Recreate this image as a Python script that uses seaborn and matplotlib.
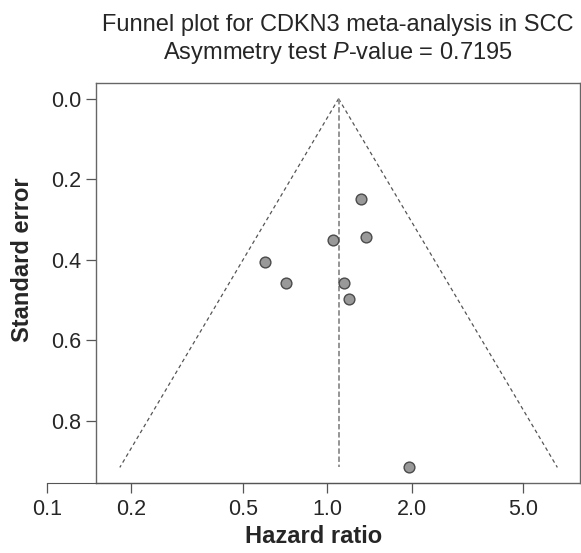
import numpy as np
import pandas as pd
import seaborn as sns
import matplotlib
matplotlib.use("Agg")
from matplotlib import pyplot as plt

# study estimates
hazard_ratio = [1.32, 1.37, 1.05, 0.60, 0.71, 1.15, 1.19, 1.96]
std_error = [0.248, 0.344, 0.350, 0.406, 0.457, 0.459, 0.498, 0.916]
pooled_hr = 1.097
se_max = 0.916
x_ticks = [0.1, 0.2, 0.5, 1.0, 2.0, 5.0]
x_ticklabels = ["0.1", "0.2", "0.5", "1.0", "2.0", "5.0"]
y_ticks = [0.0, 0.2, 0.4, 0.6, 0.8]
y_ticklabels = ["0.0", "0.2", "0.4", "0.6", "0.8"]

sns.set_style("white")
plt.rcParams["font.family"] = ["Liberation Sans", "DejaVu Sans"]
plt.rcParams["mathtext.fontset"] = "custom"
plt.rcParams["mathtext.rm"] = "Liberation Sans"
plt.rcParams["mathtext.it"] = "Liberation Sans:italic"

df = pd.DataFrame({"hr": hazard_ratio, "se": std_error})

fig = plt.figure(figsize=(5.81, 5.53), dpi=100)
ax = fig.add_axes([0.1652, 0.1271, 0.8331, 0.7223])
axis_x = fig.add_axes([0.0804, 0.1271, 0.9179, 0.7223])
axis_x.patch.set_visible(False)

# funnel limits
se_line = np.array([0.0, se_max])
ax.plot(pooled_hr * np.exp(-1.96 * se_line), se_line, ls=(0, (3, 2.5)), lw=0.9, color="#555555")
ax.plot(pooled_hr * np.exp(1.96 * se_line), se_line, ls=(0, (3, 2.5)), lw=0.9, color="#555555")
ax.plot([pooled_hr, pooled_hr], se_line, ls=(0, (3, 1.5)), lw=1.3, color="#8c8c8c")

sns.scatterplot(data=df, x="hr", y="se", ax=ax, s=60, color="#999999",
                edgecolor="#4a4a4a", linewidth=1.0, zorder=3, legend=False)

ax.set_xscale("log")
ax.set_xlim(0.1498, 7.955)
ax.set_ylim(0.954, -0.0383)
ax.set_xticks([])
ax.minorticks_off()
ax.tick_params(axis="x", which="both", bottom=False, labelbottom=False)
ax.set_yticks(y_ticks)
ax.set_yticklabels(y_ticklabels, fontsize=15.5)
ax.tick_params(axis="y", length=7.5, width=0.9, color="#555555", pad=3, left=True)
ax.set_xlabel("")
ax.set_ylabel("")
for sp in ax.spines.values():
    sp.set_color("#666666")
    sp.set_linewidth(1.0)

# detached R-style x axis
axis_x.set_xscale("log")
axis_x.set_xlim(0.1, 7.955)
axis_x.set_ylim(0, 1)
axis_x.set_yticks([])
axis_x.minorticks_off()
axis_x.set_xticks(x_ticks)
axis_x.set_xticklabels(x_ticklabels, fontsize=15.5)
axis_x.tick_params(axis="x", length=7.5, width=0.9, color="#555555", pad=4, bottom=True)
for side in ["top", "right", "left"]:
    axis_x.spines[side].set_visible(False)
axis_x.spines["bottom"].set_bounds(0.1, 5.0)
axis_x.spines["bottom"].set_color("#555555")
axis_x.set_xlabel("Hazard ratio", fontsize=17, fontweight="bold", labelpad=4)

fig.text(0.0387, 0.53, "Standard error", rotation=90, fontsize=17,
         fontweight="bold", ha="center", va="center")
fig.text(0.581, 0.955, "Funnel plot for CDKN3 meta-analysis in SCC",
         fontsize=17, ha="center", va="center")
fig.text(0.581, 0.905, r"Asymmetry test $\it{P}$-value = 0.7195",
         fontsize=17, ha="center", va="center")

fig.savefig("out.png", dpi=100)
